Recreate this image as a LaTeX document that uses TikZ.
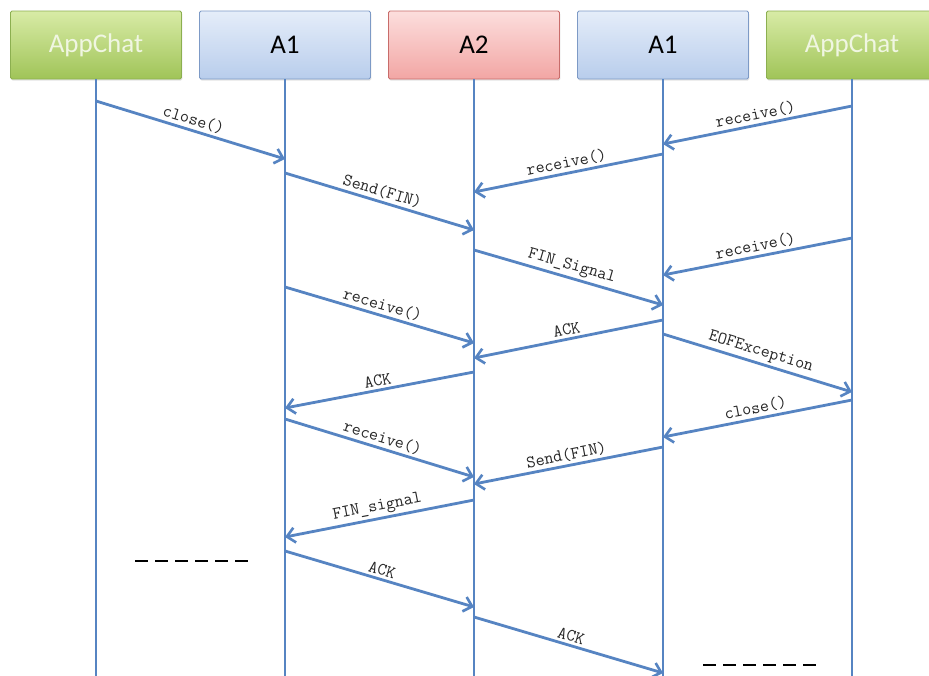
\documentclass[tikz,border=0pt]{standalone}
\usepackage{fontspec}
\setmainfont{Carlito}
\usetikzlibrary{arrows.meta,shadows}

\definecolor{lifeblue}{RGB}{86,132,194}
\definecolor{greentop}{RGB}{216,235,166}
\definecolor{greenbot}{RGB}{160,196,88}
\definecolor{greenedge}{RGB}{140,175,80}
\definecolor{greentext}{RGB}{240,246,226}
\definecolor{bluetop}{RGB}{229,237,249}
\definecolor{bluebot}{RGB}{184,205,236}
\definecolor{blueedge}{RGB}{125,154,198}
\definecolor{redtop}{RGB}{252,222,221}
\definecolor{redbot}{RGB}{242,166,164}
\definecolor{rededge}{RGB}{200,108,106}

\tikzset{
  actor/.style={rectangle, rounded corners=1.5pt, minimum width=171pt,
    minimum height=68pt, outer sep=0pt, line width=0.9pt,
    font=\fontsize{27}{30}\selectfont,
    drop shadow={shadow xshift=0.8pt, shadow yshift=-1.6pt, opacity=0.22}},
  appbox/.style={actor, draw=greenedge, top color=greentop, bottom color=greenbot, text=greentext},
  abox/.style={actor, draw=blueedge, top color=bluetop, bottom color=bluebot, text=black},
  rbox/.style={actor, draw=rededge, top color=redtop, bottom color=redbot, text=black},
  life/.style={draw=lifeblue, line width=2.8pt},
  msg/.style={draw=lifeblue, line width=2.8pt,
    -{Straight Barb[length=8pt,width=15pt,line width=2.6pt]}},
  lbl/.style={sloped, above, midway, inner sep=2.5pt,
    font=\ttfamily\fontsize{17.5}{19}\selectfont, text=black!85}
}

\newcommand\msg[5]{\draw[msg] (#1 |- 0,#2) -- node[lbl]{#5} (#3 |- 0,#4);}

\begin{document}
\begin{tikzpicture}[x=1pt,y=-1pt]
\useasboundingbox (0,0) rectangle (929,675);
\clip (0,0) rectangle (929,675);
\fill[white] (0,0) rectangle (929,675);

% participants
\node[appbox] (c1) at (96,45)  {AppChat};
\node[abox]   (a1) at (285,45) {A1};
\node[rbox]   (a2) at (474,45) {A2};
\node[abox]   (b1) at (663,45) {A1};
\node[appbox] (c2) at (852,45) {AppChat};

% lifelines
\foreach \p in {c1,a1,a2,b1,c2}
  \draw[life] (\p.south) -- (\p.south |- 0,680);

% messages
\msg{c1}{101}{a1}{159}{close()}
\msg{a1}{173}{a2}{230}{Send(FIN)}
\msg{c2}{106}{b1}{144}{receive()}
\msg{b1}{154}{a2}{192}{receive()}
\msg{c2}{238}{b1}{275}{receive()}
\msg{a2}{250}{b1}{305}{FIN\_Signal}
\msg{a1}{287}{a2}{343}{receive()}
\msg{b1}{320}{a2}{358}{ACK}
\msg{b1}{334}{c2}{392}{EOFException}
\msg{a2}{372}{a1}{408}{ACK}
\msg{c2}{400}{b1}{437}{close()}
\msg{a1}{419}{a2}{477}{receive()}
\msg{b1}{447}{a2}{484}{Send(FIN)}
\msg{a2}{500}{a1}{537}{FIN\_signal}
\msg{a1}{551}{a2}{607}{ACK}
\msg{a2}{617}{b1}{673}{ACK}

% continuation marks
\coordinate (d1) at (135,561);
\coordinate (d2) at (252,561);
\coordinate (d3) at (703,665);
\coordinate (d4) at (820,665);
\draw[black, line width=1.4pt, dash pattern=on 13pt off 7pt] (d1) -- (d2);
\draw[black, line width=1.4pt, dash pattern=on 13pt off 7pt] (d3) -- (d4);
\end{tikzpicture}
\end{document}
